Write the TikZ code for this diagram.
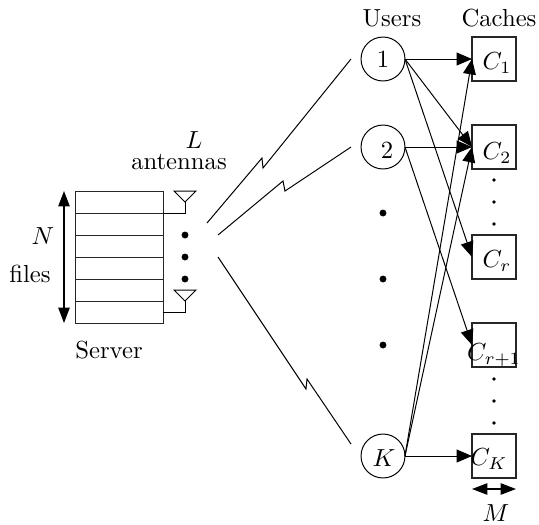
\documentclass[tikz,border=0pt]{standalone}
\usetikzlibrary{arrows.meta}
\tikzset{
  px/.style={x=0.405pt,y=-0.405pt},
  lbl/.style={inner sep=0pt,outer sep=0pt,anchor=center},
  user/.style={draw,circle,minimum size=17.8pt,inner sep=0pt,outer sep=0pt,line width=0.4pt},
  cachebox/.style={draw=black!85,rectangle,minimum size=17.8pt,inner sep=0pt,outer sep=0pt,line width=0.45pt},
  filerow/.style={draw=black!85,minimum width=35.6pt,minimum height=8.9pt,inner sep=0pt,outer sep=0pt,line width=0.3pt},
  bigdot/.style={fill=black,circle,minimum size=2.8pt,inner sep=0pt},
  smalldot/.style={fill=black,circle,minimum size=1.6pt,inner sep=0pt},
  wire/.style={line width=0.4pt},
  feed/.style={line width=0.4pt,-{Triangle[length=6.2pt,width=5.2pt]}},
  span/.style={line width=0.5pt,{Triangle[length=6.2pt,width=4.6pt]}-{Triangle[length=6.2pt,width=4.6pt]}},
}
\begin{document}
\begin{tikzpicture}[px]
\useasboundingbox (0,0) rectangle (539,524);
% server stack
\node[filerow] (row1) at (119,202) {};
\node[filerow] (row2) at (119,224) {};
\node[filerow] (row3) at (119,246) {};
\node[filerow] (row4) at (119,268) {};
\node[filerow] (row5) at (119,290) {};
\node[filerow] (row6) at (119,312) {};
% file span arrow
\coordinate (nt) at (64,191);
\coordinate (nb) at (64,323);
\draw[span] (nt) -- (nb);
\node[lbl] (nlab) at (43,236) {$N$};
\node[lbl] (files) at (30,274) {files};
\node[lbl] (server) at (109,350) {Server};
% antennas
\coordinate (a1l) at (174,191); \coordinate (a1r) at (196,191); \coordinate (a1a) at (185,202);
\coordinate (a1b) at (185,213); \coordinate (a1s) at (163,213);
\draw[wire] (a1l) -- (a1r) -- (a1a) -- cycle;
\draw[wire] (a1a) -- (a1b) -- (a1s);
\coordinate (a2l) at (174,290); \coordinate (a2r) at (196,290); \coordinate (a2a) at (185,301);
\coordinate (a2b) at (185,312); \coordinate (a2s) at (163,312);
\draw[wire] (a2l) -- (a2r) -- (a2a) -- cycle;
\draw[wire] (a2a) -- (a2b) -- (a2s);
\node[bigdot] (ad1) at (185,235) {};
\node[bigdot] (ad2) at (185,257) {};
\node[bigdot] (ad3) at (185,279) {};
\node[lbl] (llab) at (194,140) {$L$};
\node[lbl] (ant) at (179,162) {antennas};
% users
\node[lbl] (users) at (392,18) {Users};
\node[lbl] (caches) at (499,18) {Caches};
\node[user] (u1) at (383,59) {};
\node[lbl] at (383,59) {1};
\node[user] (u2) at (383,147) {};
\node[lbl] at (387,150) {2};
\node[user] (uk) at (383,456) {};
\node[lbl] at (384,458) {$K$};
\node[bigdot] (ud1) at (383,213) {};
\node[bigdot] (ud2) at (383,279) {};
\node[bigdot] (ud3) at (383,345) {};
% caches
\node[cachebox] (c1) at (494,59) {};
\node[cachebox] (c2) at (494,147) {};
\node[cachebox] (cr) at (494,257) {};
\node[cachebox] (cs) at (494,345) {};
\node[cachebox] (ck) at (494,456) {};
\node[lbl] at (497,63) {$C_1$};
\node[lbl] at (497,153) {$C_2$};
\node[lbl] at (497,261) {$C_r$};
\node[lbl] at (494,355) {$C_{r+1}$};
\node[lbl] at (489,459) {$C_K$};
\node[smalldot] at (494,180) {};
\node[smalldot] at (494,202) {};
\node[smalldot] at (494,224) {};
\node[smalldot] at (494,379) {};
\node[smalldot] at (494,401) {};
\node[smalldot] at (494,423) {};
% feeds
\draw[feed] (u1.east) -- (c1.west);
\draw[feed] (u1.east) -- (c2.west);
\draw[feed] (u1.east) -- (cr.west);
\draw[feed] (u2.east) -- (c2.west);
\draw[feed] (u2.east) -- (cs.west);
\draw[feed] (uk.east) -- (c1.west);
\draw[feed] (uk.east) -- (c2.west);
\draw[feed] (uk.east) -- (ck.west);
% size span
\coordinate (ml) at (472,489);
\coordinate (mr) at (516,489);
\draw[span] (ml) -- (mr);
\node[lbl] (mlab) at (496,513) {$M$};
% wireless links
\coordinate (l1a) at (207,223); \coordinate (l1b) at (262,158); \coordinate (l1c) at (263,168); \coordinate (l1d) at (351,59);
\coordinate (l2a) at (218,235); \coordinate (l2b) at (283,181); \coordinate (l2c) at (285,191); \coordinate (l2d) at (351,147);
\coordinate (l3a) at (218,257); \coordinate (l3b) at (306,389); \coordinate (l3c) at (307,379); \coordinate (l3d) at (351,444);
\draw[wire] (l1a) -- (l1b) -- (l1c) -- (l1d);
\draw[wire] (l2a) -- (l2b) -- (l2c) -- (l2d);
\draw[wire] (l3a) -- (l3b) -- (l3c) -- (l3d);
\end{tikzpicture}
\end{document}
